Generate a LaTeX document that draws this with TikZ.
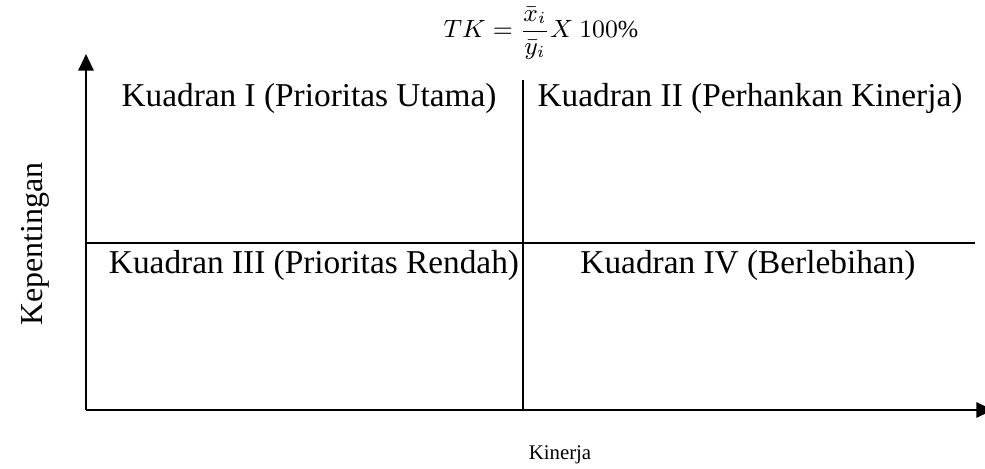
\documentclass[tikz,border=0pt]{standalone}
\usepackage{fontspec}
\setmainfont{Liberation Serif}
\usetikzlibrary{arrows.meta,positioning}

\begin{document}
\begin{tikzpicture}[
		x=0.36pt, y=-0.36pt,
		axis/.style={line width=0.8pt, -{Triangle[length=6pt, width=5.5pt]}},
		divider/.style={line width=0.6pt},
		quadrant/.style={inner sep=0pt, font=\fontsize{12}{14}\selectfont},
	]
		\useasboundingbox (0,0) rectangle (985,469);
		\coordinate (origin) at (86,410);
		\coordinate (ytop) at (86,54);
		\coordinate (xend) at (993,410);
		\coordinate (vtop) at (523,80);
		\coordinate (vbot) at (523,410);
		\coordinate (hleft) at (86,243);
		\coordinate (hright) at (975,243);
		
		\draw[axis] (origin) -- (ytop);
		\draw[axis] (origin) -- (xend);
		\draw[divider] (vtop) -- (vbot);
		\draw[divider] (hleft) -- (hright);
		
		\node (q1) [quadrant] at (309,98) {Kuadran I (Prioritas Utama)};
		\node (q2) [quadrant] at (750,98) {Kuadran II (Perhankan Kinerja)};
		\node (q3) [quadrant] at (314,265) {Kuadran III (Prioritas Rendah)};
		\node (q4) [quadrant] at (748,265) {Kuadran IV (Berlebihan)};
		
		\node (ylabel) [rotate=90, inner sep=0pt, font=\fontsize{11.5}{14}\selectfont] at (35,244) {Kepentingan};
		\node (xlabel) [inner sep=0pt, font=\fontsize{7.5}{10}\selectfont] at (560,455) {Kinerja};
		\node (formula) [inner sep=0pt, font=\fontsize{8.8}{10}\selectfont] at (541,33) {$\displaystyle TK=\frac{\bar{x}_i}{\bar{y}_i}X\ 100\%$};
	\end{tikzpicture}
\end{document}
